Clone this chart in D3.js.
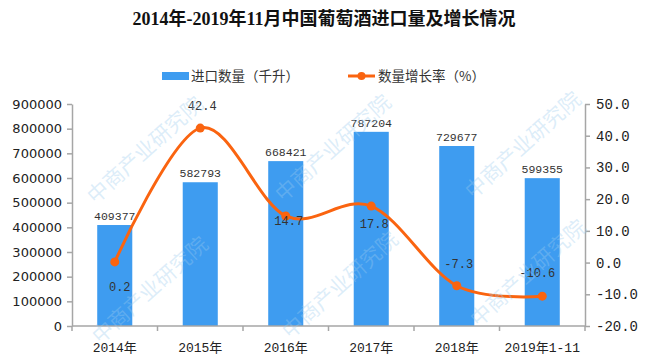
<!DOCTYPE html>
<html><head><meta charset="utf-8">
<script src="https://cdn.jsdelivr.net/npm/d3@7"></script>
<style>
html,body{margin:0;padding:0;background:#fff;}
svg{display:block;}
</style></head>
<body>
<svg id="chart" width="650" height="356"></svg>
<script>
const categories = ["2014年","2015年","2016年","2017年","2018年","2019年1-11"];
const importVolume = [409377, 582793, 668421, 787204, 729677, 599355];
const growthRate = [0.2, 42.4, 14.7, 17.8, -7.3, -10.6];
const leftTicks = [0,100000,200000,300000,400000,500000,600000,700000,800000,900000];
const rightTicks = [-20,-10,0,10,20,30,40,50];
const rateLabelPlacement = ["below","above","on","belowNear","above","aboveLeft"];
const titleText = "2014年-2019年11月中国葡萄酒进口量及增长情况";
const legendNames = ["进口数量（千升）","数量增长率（%）"];

const svg = d3.select("#chart");
const W = 650, H = 356;
const m = {left:72, right:585, top:104, bottom:326};
const barColor = "#3e9cf0", lineColor = "#fa6410", axisColor = "#a6a6a6", textColor = "#333";
const monoFont = "'Liberation Mono','DejaVu Sans Mono','Noto Sans CJK SC',monospace";

svg.append("rect").attr("width",W).attr("height",H).attr("fill","#fff");

const x = d3.scaleBand().domain(categories).range([m.left,m.right]).paddingInner(0.59).paddingOuter(0.295);
const yL = d3.scaleLinear().domain([0,900000]).range([m.bottom,m.top]);
const yR = d3.scaleLinear().domain([-20,50]).range([m.bottom,m.top]);

// Title
svg.append("text").attr("x",324).attr("y",25).attr("text-anchor","middle")
  .attr("font-family","'Liberation Serif','Noto Sans CJK SC',serif").attr("font-weight","bold")
  .attr("font-size",18).attr("fill","#111").text(titleText);

// Legend
const lg = svg.append("g").attr("font-family","'Noto Sans CJK SC',sans-serif").attr("font-size",13.5).attr("fill",textColor);
lg.append("rect").attr("x",162).attr("y",72).attr("width",27).attr("height",8).attr("fill",barColor);
lg.append("text").attr("x",191).attr("y",76).attr("dy","0.35em").text(legendNames[0]);
lg.append("line").attr("x1",348).attr("x2",375).attr("y1",76).attr("y2",76).attr("stroke",lineColor).attr("stroke-width",3);
lg.append("circle").attr("cx",361.5).attr("cy",76).attr("r",4).attr("fill",lineColor);
lg.append("text").attr("x",378).attr("y",76).attr("dy","0.35em").text(legendNames[1]);

// Bars
svg.append("g").selectAll("rect").data(importVolume).join("rect")
  .attr("x",(d,i)=>x(categories[i])).attr("width",x.bandwidth())
  .attr("y",d=>yL(d)).attr("height",d=>yL(0)-yL(d)).attr("fill",barColor);

// Bar labels
svg.append("g").attr("font-family",monoFont).attr("font-size",11.5).attr("fill",textColor)
  .selectAll("text").data(importVolume).join("text")
  .attr("x",(d,i)=>x(categories[i])+x.bandwidth()/2).attr("y",d=>yL(d)-5)
  .attr("text-anchor","middle").text(d=>d);

// Left axis
const axL = svg.append("g").attr("transform",`translate(${m.left},0)`)
  .call(d3.axisLeft(yL).tickValues(leftTicks).tickSize(5).tickSizeOuter(0).tickFormat(d3.format("d")));
axL.selectAll("text").attr("font-family","'DejaVu Sans',sans-serif").attr("font-size",13).attr("fill","#222").attr("x",-10);
// Right axis
const axR = svg.append("g").attr("transform",`translate(${m.right},0)`)
  .call(d3.axisRight(yR).tickValues(rightTicks).tickSize(5).tickSizeOuter(0).tickFormat(d=>d.toFixed(1)));
axR.selectAll("text").attr("font-family",monoFont).attr("font-size",14).attr("fill","#222").attr("x",11);
[axL,axR].forEach(a=>{a.select(".domain").attr("stroke",axisColor).attr("stroke-width",1.5);a.selectAll(".tick line").attr("stroke",axisColor).attr("stroke-width",1.5);});

// Bottom axis
const bx = svg.append("g");
bx.append("line").attr("x1",m.left).attr("x2",m.right).attr("y1",m.bottom).attr("y2",m.bottom).attr("stroke",axisColor).attr("stroke-width",1.5);
d3.range(categories.length+1).forEach(i=>{
  const xx = m.left + i*x.step();
  bx.append("line").attr("x1",xx).attr("x2",xx).attr("y1",m.bottom).attr("y2",m.bottom+5).attr("stroke",axisColor).attr("stroke-width",1.5);
});
bx.selectAll("text").data(categories).join("text")
  .attr("x",d=>x(d)+x.bandwidth()/2).attr("y",347).attr("dy","0.35em").attr("text-anchor","middle")
  .attr("font-family",monoFont).attr("font-size",13).attr("fill","#222").text(d=>d);

// Line
const cx = i => x(categories[i])+x.bandwidth()/2;
const line = d3.line().x((d,i)=>cx(i)).y(d=>yR(d)).curve(d3.curveCardinal.tension(0));
svg.append("path").datum(growthRate).attr("d",line).attr("fill","none").attr("stroke",lineColor).attr("stroke-width",3);
svg.append("g").selectAll("circle").data(growthRate).join("circle")
  .attr("cx",(d,i)=>cx(i)).attr("cy",d=>yR(d)).attr("r",4.5).attr("fill",lineColor);

const off = {below:[5,25], belowNear:[3,18], above:[2,-22], on:[3,5], aboveLeft:[-5,-23]};
svg.append("g").attr("font-family",monoFont).attr("font-size",12).attr("fill",textColor)
  .selectAll("text").data(growthRate).join("text")
  .attr("x",(d,i)=>cx(i)+off[rateLabelPlacement[i]][0])
  .attr("y",(d,i)=>yR(d)+off[rateLabelPlacement[i]][1])
  .attr("dy","0.35em").attr("text-anchor","middle").text(d=>d.toFixed(1));

// Watermarks
const wm = svg.append("g").attr("font-family","'Noto Sans CJK SC',sans-serif").attr("font-size",21)
  .attr("fill","#9ccbee").attr("fill-opacity",0.35).attr("text-anchor","middle");
[[145,150],[333,148],[523,145],[150,290],[340,285],[528,273]].forEach(c=>{
  wm.append("text").attr("transform",`translate(${c[0]},${c[1]}) rotate(-42)`).attr("dy","0.35em").text("中商产业研究院");
});
</script>
</body></html>
